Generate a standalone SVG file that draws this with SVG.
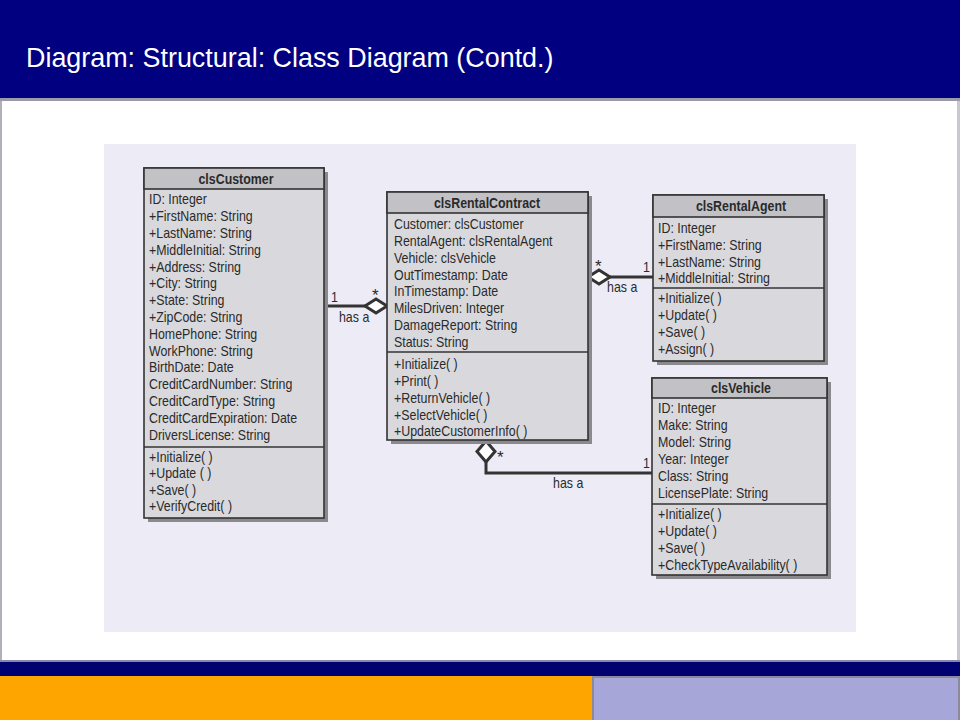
<svg xmlns="http://www.w3.org/2000/svg" width="960" height="720" viewBox="0 0 960 720">
<style>
.hdr{fill:#000080}
.title{font-family:"Liberation Sans",Arial,sans-serif;font-size:26.9px;fill:#ffffff}
.box{fill:#d9d9dd;stroke:#333333;stroke-width:1.6}
.head{fill:#c2c2c6;stroke:#333333;stroke-width:1.6}
.shadow{fill:#8a8a8e}
.div{stroke:#333333;stroke-width:1.6}
.t{font-family:"Liberation Sans",Arial,sans-serif;font-size:14px;fill:#2a2a2a}
.cn{font-family:"Liberation Sans",Arial,sans-serif;font-size:14px;font-weight:bold;fill:#2a2a2a;text-anchor:middle}
.line{fill:none;stroke:#333333;stroke-width:3}
.dia{fill:#ffffff;stroke:#333333;stroke-width:3;stroke-linejoin:miter}
.lbl{font-family:"Liberation Sans",Arial,sans-serif;font-size:14px;fill:#2a2a2a}
.star{font-family:"Liberation Sans",Arial,sans-serif;font-size:17px;fill:#2a2a2a}
</style>
<rect x="0" y="0" width="960" height="720" fill="#ffffff"/>
<rect class="hdr" x="0" y="0" width="960" height="98"/>
<rect x="0" y="98" width="960" height="3" fill="#9a9aa8"/>
<rect x="0" y="101" width="2" height="560" fill="#b0b0b8"/>
<rect x="957" y="101" width="3" height="560" fill="#c8c8d0"/>
<text class="title" x="26" y="67">Diagram: Structural: Class Diagram (Contd.)</text>
<rect x="0" y="660" width="960" height="2" fill="#8888aa"/>
<rect x="0" y="662" width="960" height="14" fill="#000070"/>
<rect x="0" y="676" width="592" height="44" fill="#ffa500"/>
<rect x="592" y="676" width="368" height="44" fill="#8a8a9a"/>
<rect x="594" y="678" width="364" height="42" fill="#a6a6d8"/>
<rect x="104" y="144" width="752" height="488" fill="#edecf6"/>

<g id="connectors">
<line class="line" x1="324" y1="306" x2="365" y2="306"/>
<polygon class="dia" points="365,306 376,299 387,306 376,313"/>
<line class="line" x1="610" y1="277" x2="653" y2="277"/>
<polygon class="dia" points="588,277 599,270 610,277 599,284"/>
<polyline class="line" points="486,462 486,473 652,473"/>
<polygon class="dia" points="486,441 495,451.5 486,462 477,451.5"/>
<g transform="scale(0.886,1)">
<text class="lbl" x="373.6" y="302">1</text>
<text class="lbl" x="382.6" y="322">has a</text>
<text class="lbl" x="725.7" y="272">1</text>
<text class="lbl" x="685.1" y="292">has a</text>
<text class="lbl" x="725.7" y="468">1</text>
<text class="lbl" x="624.2" y="488">has a</text>
</g>
<text class="star" x="372" y="301">*</text>
<text class="star" x="595" y="272">*</text>
<text class="star" x="497" y="463">*</text>
</g>

<g id="clsCustomer">
<rect class="shadow" x="148" y="172" width="180" height="350"/>
<rect class="box" x="144" y="168" width="180" height="350"/>
<rect class="head" x="144" y="168" width="180" height="21"/>
<line class="div" x1="144" y1="447" x2="324" y2="447"/>
<g transform="translate(236,0) scale(0.886,1)"><text class="cn" x="0" y="184">clsCustomer</text></g>
<g transform="translate(149,0) scale(0.886,1)">
<text class="t" x="0" y="204">ID: Integer</text>
<text class="t" x="0" y="221">+FirstName: String</text>
<text class="t" x="0" y="238">+LastName: String</text>
<text class="t" x="0" y="255">+MiddleInitial: String</text>
<text class="t" x="0" y="272">+Address: String</text>
<text class="t" x="0" y="288">+City: String</text>
<text class="t" x="0" y="305">+State: String</text>
<text class="t" x="0" y="322">+ZipCode: String</text>
<text class="t" x="0" y="339">HomePhone: String</text>
<text class="t" x="0" y="356">WorkPhone: String</text>
<text class="t" x="0" y="372">BirthDate: Date</text>
<text class="t" x="0" y="389">CreditCardNumber: String</text>
<text class="t" x="0" y="406">CreditCardType: String</text>
<text class="t" x="0" y="423">CreditCardExpiration: Date</text>
<text class="t" x="0" y="440">DriversLicense: String</text>
<text class="t" x="0" y="462">+Initialize( )</text>
<text class="t" x="0" y="478">+Update ( )</text>
<text class="t" x="0" y="495">+Save( )</text>
<text class="t" x="0" y="511">+VerifyCredit( )</text>
</g>
</g>

<g id="clsRentalContract">
<rect class="shadow" x="391" y="196" width="201" height="248"/>
<rect class="box" x="387" y="192" width="201" height="248"/>
<rect class="head" x="387" y="192" width="201" height="21"/>
<line class="div" x1="387" y1="352" x2="588" y2="352"/>
<g transform="translate(487,0) scale(0.886,1)"><text class="cn" x="0" y="208">clsRentalContract</text></g>
<g transform="translate(394,0) scale(0.886,1)">
<text class="t" x="0" y="229">Customer: clsCustomer</text>
<text class="t" x="0" y="246">RentalAgent: clsRentalAgent</text>
<text class="t" x="0" y="263">Vehicle: clsVehicle</text>
<text class="t" x="0" y="280">OutTimestamp: Date</text>
<text class="t" x="0" y="296">InTimestamp: Date</text>
<text class="t" x="0" y="313">MilesDriven: Integer</text>
<text class="t" x="0" y="330">DamageReport: String</text>
<text class="t" x="0" y="347">Status: String</text>
<text class="t" x="0" y="369">+Initialize( )</text>
<text class="t" x="0" y="386">+Print( )</text>
<text class="t" x="0" y="403">+ReturnVehicle( )</text>
<text class="t" x="0" y="420">+SelectVehicle( )</text>
<text class="t" x="0" y="436">+UpdateCustomerInfo( )</text>
</g>
</g>

<g id="clsRentalAgent">
<rect class="shadow" x="657" y="199" width="171" height="166"/>
<rect class="box" x="653" y="195" width="171" height="166"/>
<rect class="head" x="653" y="195" width="171" height="22"/>
<line class="div" x1="653" y1="288" x2="824" y2="288"/>
<g transform="translate(741,0) scale(0.886,1)"><text class="cn" x="0" y="211">clsRentalAgent</text></g>
<g transform="translate(658,0) scale(0.886,1)">
<text class="t" x="0" y="233">ID: Integer</text>
<text class="t" x="0" y="250">+FirstName: String</text>
<text class="t" x="0" y="267">+LastName: String</text>
<text class="t" x="0" y="283">+MiddleInitial: String</text>
<text class="t" x="0" y="303">+Initialize( )</text>
<text class="t" x="0" y="320">+Update( )</text>
<text class="t" x="0" y="337">+Save( )</text>
<text class="t" x="0" y="354">+Assign( )</text>
</g>
</g>

<g id="clsVehicle">
<rect class="shadow" x="656" y="382" width="175" height="197"/>
<rect class="box" x="652" y="378" width="175" height="197"/>
<rect class="head" x="652" y="378" width="175" height="20"/>
<line class="div" x1="652" y1="504" x2="827" y2="504"/>
<g transform="translate(741,0) scale(0.886,1)"><text class="cn" x="0" y="393">clsVehicle</text></g>
<g transform="translate(658,0) scale(0.886,1)">
<text class="t" x="0" y="413">ID: Integer</text>
<text class="t" x="0" y="430">Make: String</text>
<text class="t" x="0" y="447">Model: String</text>
<text class="t" x="0" y="464">Year: Integer</text>
<text class="t" x="0" y="481">Class: String</text>
<text class="t" x="0" y="498">LicensePlate: String</text>
<text class="t" x="0" y="519">+Initialize( )</text>
<text class="t" x="0" y="536">+Update( )</text>
<text class="t" x="0" y="553">+Save( )</text>
<text class="t" x="0" y="570">+CheckTypeAvailability( )</text>
</g>
</g>
</svg>
